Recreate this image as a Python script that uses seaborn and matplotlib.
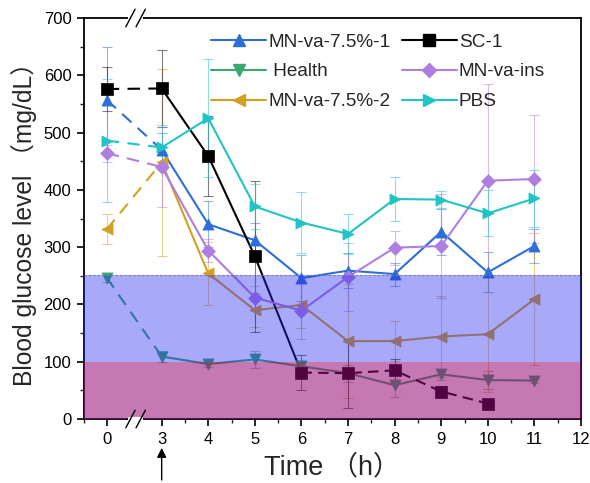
import numpy as np
import pandas as pd
import matplotlib
matplotlib.use("Agg")
import matplotlib.pyplot as plt
import seaborn as sns
from matplotlib.lines import Line2D
from matplotlib.ticker import MultipleLocator, FixedLocator

sns.set_theme(style="ticks")
plt.rcParams['font.family'] = ['Liberation Sans', 'Noto Sans CJK SC', 'DejaVu Sans']

# ---------------- data ----------------
times = [0, 3, 4, 5, 6, 7, 8, 9, 10, 11]
tick_labels = ["0", "3", "4", "5", "6", "7", "8", "9", "10", "11", "12"]

series_names = ["MN-va-7.5%-1", "Health", "MN-va-7.5%-2", "SC-1", "MN-va-ins", "PBS"]
legend_labels = ["MN-va-7.5%-1", " Health", "MN-va-7.5%-2", "SC-1", "MN-va-ins", "PBS"]

mn1 = [557, 470, 340, 312, 246, 259, 253, 327, 256, 302]
mn1_err = [92, 30, 40, 30, 40, 30, 20, 40, 35, 30]
health = [247, 109, 96, 104, 92, 80, 59, 78, 68, 67]
health_err = [8, 10, 5, 15, 10, 15, 20, 10, 15, 5]
mn2 = [331, 448, 254, 190, 199, 136, 136, 144, 148, 209]
mn2_err = [26, 163, 55, 30, 40, 100, 35, 70, 100, 115]
sc1 = [576, 577, 459, 284, 81, 80, 85, 48, 27, None]
sc1_err = [39, 68, 70, 132, 31, 60, 20, 10, 5, None]
mnins = [464, 440, 294, 212, 189, 248, 299, 302, 416, 419]
mnins_err = [15, 70, 20, 20, 50, 60, 30, 90, 168, 112]
pbs = [486, 474, 525, 371, 343, 323, 384, 383, 359, 385]
pbs_err = [107, 40, 103, 40, 54, 35, 39, 15, 40, 50]

values = [mn1, health, mn2, sc1, mnins, pbs]
errors = [mn1_err, health_err, mn2_err, sc1_err, mnins_err, pbs_err]

colors = ["#2d6fd8", "#3aa86e", "#d4a020", "#000000", "#b07ee0", "#20c4c4"]
markers = ["^", "v", "<", "s", "D", ">"]
msizes = [8, 8, 8, 8.5, 7, 8]

# position of time 0 on the broken axis
def pos(t):
    return t if t >= 3 else 1.82

rows = []
for name, vals, errs in zip(series_names, values, errors):
    for t, v, e in zip(times, vals, errs):
        if v is not None:
            rows.append(dict(series=name, time=t, x=pos(t), value=v, err=e))
df = pd.DataFrame(rows)

# ---------------- figure ----------------
fig = plt.figure(figsize=(5.9, 4.83), dpi=100)
ax = fig.add_axes([84/590, 1-419/483, (581-84)/590, (419-18)/483])

for name, c, m, ms in zip(series_names, colors, markers, msizes):
    d = df[df.series == name].sort_values("time")
    ax.errorbar(d.x, d.value, yerr=d.err, fmt="none", ecolor=c, elinewidth=0.8,
                capsize=3.5, capthick=0.8, alpha=0.5, zorder=2)
    seg0 = d[d.time <= 3]
    ax.plot(seg0.x, seg0.value, color=c, lw=1.5, ls=(0, (6, 4)), zorder=3)
    if name == "SC-1":
        solid = d[(d.time >= 3) & (d.time <= 6)]
        dashed = d[d.time >= 6]
        sns.lineplot(data=solid, x="x", y="value", color=c, lw=1.5, ax=ax,
                     legend=False, zorder=3, sort=False)
        ax.plot(dashed.x, dashed.value, color=c, lw=1.5, ls=(0, (5, 3)), zorder=3)
    else:
        solid = d[d.time >= 3]
        sns.lineplot(data=solid, x="x", y="value", color=c, lw=1.5, ax=ax,
                     legend=False, zorder=3, sort=False)
    sns.scatterplot(data=d, x="x", y="value", color=c, marker=m, s=ms**2,
                    edgecolor=c, linewidth=0.5, ax=ax, legend=False, zorder=4)

# shaded glucose bands (drawn on top, translucent)
ax.axhspan(100, 252, facecolor=(42/255, 42/255, 242/255), alpha=0.4, lw=0, zorder=5)
ax.axhspan(0, 100, facecolor=(151/255, 9/255, 118/255), alpha=0.55, lw=0, zorder=5)
ax.axhline(252, color="#7a7a9a", lw=0.8, ls=(0, (2, 2)), zorder=5)

# axes
ax.set_xlim(1.333, 12)
ax.set_ylim(0, 700)
tick_pos = [pos(t) for t in [0, 3, 4, 5, 6, 7, 8, 9, 10, 11, 12]]
ax.xaxis.set_major_locator(FixedLocator(tick_pos))
ax.set_xticklabels(tick_labels)
ax.xaxis.set_minor_locator(FixedLocator([1.333, 3.5, 4.5, 5.5, 6.5, 7.5, 8.5, 9.5, 10.5, 11.5]))
ax.yaxis.set_major_locator(MultipleLocator(100))
ax.yaxis.set_minor_locator(MultipleLocator(50))
ax.tick_params(axis="both", which="major", direction="out", length=5, width=1.2,
               labelsize=12, colors="black", pad=4)
ax.tick_params(axis="both", which="minor", direction="out", length=3, width=1.0)
for s in ax.spines.values():
    s.set_visible(True)
    s.set_color("black")
    s.set_linewidth(1.3)

ax.set_xlabel("Time （h）", fontsize=19.5, labelpad=6)
ax.set_ylabel("Blood glucose level （mg/dL）", fontsize=17.7, labelpad=5)

# axis break marks
for yb in (0, 1):
    ax.plot([2.33, 2.55], [yb, yb], transform=ax.get_xaxis_transform(),
            color="white", lw=3, clip_on=False, zorder=10)
    for xb in (2.33, 2.55):
        ax.plot([xb - 0.1, xb + 0.1], [yb - 0.022, yb + 0.022],
                transform=ax.get_xaxis_transform(), color="black", lw=1.0,
                clip_on=False, zorder=11)

# arrow below tick 3
ax.annotate("", xy=(3, -0.072), xytext=(3, -0.152),
            xycoords=("data", "axes fraction"), textcoords=("data", "axes fraction"),
            arrowprops=dict(arrowstyle="-|>", color="black", lw=1.0,
                            mutation_scale=14, shrinkA=0, shrinkB=0))

# legend
handles = [Line2D([], [], color=c, marker=m, markersize=ms, lw=1.5,
                  markeredgecolor=c) for c, m, ms in zip(colors, markers, msizes)]
ax.legend(handles, legend_labels, ncol=2, loc="upper left",
          bbox_to_anchor=(0.225, 1.0), frameon=False, fontsize=13.7,
          handlelength=2.9, handletextpad=0.1, columnspacing=0.6,
          labelspacing=0.66, borderaxespad=0.4)

fig.savefig("out.png", dpi=100)
